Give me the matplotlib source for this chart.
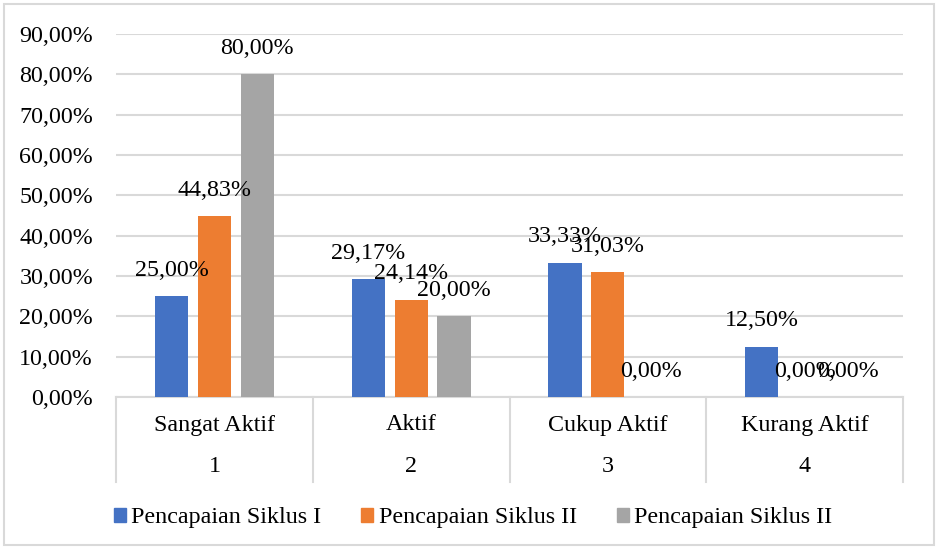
import numpy as np
import matplotlib.pyplot as plt
from matplotlib.patches import Rectangle, Patch
from matplotlib.transforms import blended_transform_factory

plt.rcParams['font.family'] = ['Liberation Serif', 'DejaVu Serif']
FS = 17.3

categories = ['Sangat Aktif', 'Aktif', 'Cukup Aktif', 'Kurang Aktif']
numbers = ['1', '2', '3', '4']
series_names = ['Pencapaian Siklus I', 'Pencapaian Siklus II', 'Pencapaian Siklus II']
siklus1 = [25.00, 29.17, 33.33, 12.50]
siklus2a = [44.83, 24.14, 31.03, 0.00]
siklus2b = [80.00, 20.00, 0.00, 0.00]
colors = ['#4472C4', '#ED7D31', '#A5A5A5']

W, H = 938, 549
fig = plt.figure(figsize=(W / 100, H / 100), dpi=100)
ax = fig.add_axes([116 / W, 1 - 397 / H, (903 - 116) / W, (397 - 34) / H])

x = np.arange(len(categories))
bw = 0.168
step = 0.218
for i, vals in enumerate([siklus1, siklus2a, siklus2b]):
    xs = x + (i - 1) * step
    v = np.array(vals) / 100
    ax.bar(xs, v, width=bw, color=colors[i], zorder=3)
    for xx, val in zip(xs, vals):
        ax.annotate(f'{val:.2f}%'.replace('.', ','), (xx, val / 100),
                    xytext=(0, 18.5), textcoords='offset points',
                    ha='center', va='center', fontsize=FS, zorder=4)

ax.set_xlim(-0.5, 3.5)
ax.set_ylim(0, 0.9)
yt = np.arange(0, 0.91, 0.1)
ax.set_yticks(yt)
ax.set_yticklabels([f'{t*100:.2f}%'.replace('.', ',') for t in yt], fontsize=FS)
ax.tick_params(axis='y', length=0, pad=16.5)
ax.set_xticks([])
ax.grid(axis='y', color='#D9D9D9', lw=1.5, zorder=0)
for s in ['top', 'right', 'left']:
    ax.spines[s].set_visible(False)
ax.spines['bottom'].set_color('#D9D9D9')
ax.spines['bottom'].set_linewidth(1.5)

tr = blended_transform_factory(ax.transData, ax.transAxes)
ah = 397 - 34
for i, (c, n) in enumerate(zip(categories, numbers)):
    ax.text(i, -28 / ah, c, transform=tr, ha='center', va='center', fontsize=FS)
    ax.text(i, -69 / ah, n, transform=tr, ha='center', va='center', fontsize=FS)
for b in np.arange(-0.5, 4, 1):
    ax.plot([b, b], [0, -85 / ah], transform=tr, color='#D9D9D9', lw=1.5, clip_on=False)

handles = [Patch(color=colors[i], label=series_names[i]) for i in range(3)]
fig.legend(handles=handles, loc='center', bbox_to_anchor=(473 / W, 1 - 518 / H),
           ncol=3, frameon=False, fontsize=FS, handlelength=0.5, handleheight=0.5,
           handletextpad=0.22, columnspacing=1.66)

fig.patches.append(Rectangle((4 / W, 4 / H), 1 - 8 / W, 1 - 8 / H, transform=fig.transFigure,
                             fill=False, edgecolor='#D9D9D9', lw=1.5))

fig.savefig('out.png', dpi=100)
